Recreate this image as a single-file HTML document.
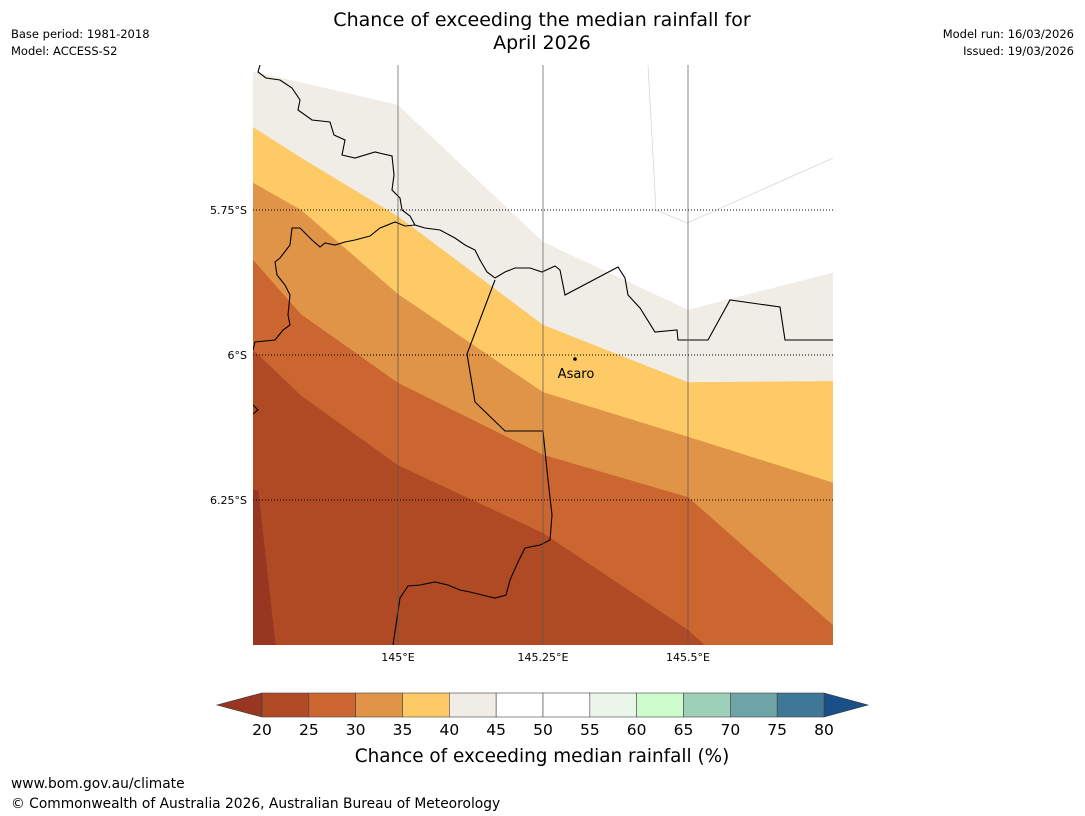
<!DOCTYPE html>
<html><head><meta charset="utf-8"><style>
body{margin:0;background:#fff;font-family:"Liberation Sans","DejaVu Sans",sans-serif;}
#wrap{position:relative;width:1085px;height:816px;overflow:hidden;}
</style></head><body>
<div id="wrap">
<svg id="svg" width="1085" height="816" xmlns="http://www.w3.org/2000/svg" style="position:absolute;left:0;top:0;font-family:'DejaVu Sans','Liberation Sans',sans-serif">
<text x="542" y="26" text-anchor="middle" font-size="19">Chance of exceeding the median rainfall for</text>
<text x="542" y="49" text-anchor="middle" font-size="19">April 2026</text>
<text x="11" y="38" font-size="11.5">Base period: 1981-2018</text>
<text x="11" y="55" font-size="11.5">Model: ACCESS-S2</text>
<text x="1074" y="38" font-size="11.5" text-anchor="end">Model run: 16/03/2026</text>
<text x="1074" y="55" font-size="11.5" text-anchor="end">Issued: 19/03/2026</text>
<defs><clipPath id="mapclip"><rect x="253" y="65" width="580" height="580"/></clipPath></defs>
<g id="map" clip-path="url(#mapclip)"></g>
<g id="overlay"></g>
<g id="cbar"></g>
<text x="542" y="762" text-anchor="middle" font-size="18.4">Chance of exceeding median rainfall (%)</text>
<text x="11" y="788" font-size="13.8">www.bom.gov.au/climate</text>
<text x="11" y="808" font-size="13.8">© Commonwealth of Australia 2026, Australian Bureau of Meteorology</text>
</svg>
</div>
<script>
// Data
const lons = [144.75, 144.833, 145.0, 145.25, 145.5, 145.75];
const b25 = [-5.991, -6.07, -6.19, -6.307, -6.474, -6.70];
const b30 = [-5.836, -5.93, -6.048, -6.172, -6.245, -6.466];
const b35 = [-5.703, -5.75, -5.895, -6.064, -6.141, -6.220];
const b40 = [-5.607, -5.66, -5.761, -5.948, -6.047, -6.045];
const b45 = [-5.512, -5.53, -5.569, -5.805, -5.922, -5.858];
const low20Lon = [144.75, 144.759, 144.789, 144.75];
const low20Lat = [-6.233, -6.233, -6.5, -6.5];
const cbLevels = [20,25,30,35,40,45,50,55,60,65,70,75,80];
const cbColors = ['#b04a24','#cb6630','#e09448','#fdca66','#f0ece6','#ffffff','#ffffff','#eaf6ea','#ccfccc','#9dd0b8','#6ea4a6','#3f7896'];
const lonTicks = [145, 145.25, 145.5];
const lonLabels = ['145°E','145.25°E','145.5°E'];
const latTicks = [-5.75, -6, -6.25];
const latLabels = ['5.75°S','6°S','6.25°S'];

const NS='http://www.w3.org/2000/svg';
const X = lon => 253 + (lon-144.75)*580;
const Y = lat => 65 + (-5.5-lat)*580;
function mk(tag, attrs, parent){const e=document.createElementNS(NS,tag);for(const k in attrs)e.setAttribute(k,attrs[k]);parent.appendChild(e);return e;}
const map=document.getElementById('map');
const ov=document.getElementById('overlay');
let r=mk('rect',{x:253,y:65,width:580,height:580,fill:'#b04a24'},map);


const bands=[[b25,'#cb6630','band-25-30'],[b30,'#e09448','band-30-35'],[b35,'#fdca66','band-35-40'],[b40,'#f0ece6','band-40-45'],[b45,'#ffffff','band-above-45']];
bands.forEach(([b,c,n])=>{
  let pts=lons.map((l,i)=>X(l)+','+Y(b[i]));
  pts.push(X(lons[lons.length-1])+',0');pts.push(X(lons[0])+',0');
  const p=mk('polygon',{points:pts.join(' '),fill:c},map);
  
  
});
let lp=mk('polygon',{points:low20Lon.map((l,i)=>X(l)+','+Y(low20Lat[i])).join(' '),fill:'#973621'},map);


let tl=mk('polyline',{points:'648,65 656,210 687,223 833,158',fill:'none',stroke:'#ccc','stroke-width':0.6},map);


// borders
const borders=[
'260,65 258,72 266,78 280,80 292,88 300,100 298,110 312,120 330,122 334,135 345,140 342,155 355,158 375,152 392,156 394,175 392,190 400,198 402,210 410,216 415,225 425,228 440,230 455,238 465,245 475,250 480,260 487,272 495,278 505,272 515,268 530,268 542,272 555,266 560,270 565,295 618,267 625,278 628,295 640,308 655,332 677,330 678,340 708,340 730,300 780,307 785,340 833,340',
'415,225 405,226 395,222 380,228 370,236 355,240 345,242 335,245 325,243 320,247 312,240 300,228 292,228 290,245 280,258 275,262 277,275 285,285 290,295 288,315 290,325 283,330 275,340 255,342 253,350',
'495,280 467,354 475,402 505,431 543,431 548,480 552,515 550,540 540,545 525,548 518,562 510,580 506,595 495,598 482,595 470,592 460,590 448,585 435,582 420,585 408,586 400,598 393,645',
'253,405 258,410 253,414'
];
borders.forEach((b,i)=>{
  const p=mk('polyline',{points:b,fill:'none',stroke:'#000','stroke-width':1.1},map);
  
  
});
// gridlines
lonTicks.forEach((l,i)=>{
  const g=mk('line',{x1:X(l),x2:X(l),y1:65,y2:645,stroke:'#555','stroke-width':1,'stroke-opacity':0.7},ov);
  
  
  const t=mk('text',{x:X(l),y:661,'text-anchor':'middle','font-size':11},ov);
  t.textContent=lonLabels[i];
  
  
});
latTicks.forEach((l,i)=>{
  const g=mk('line',{x1:253,x2:833,y1:Y(l),y2:Y(l),stroke:'#000','stroke-width':1,'stroke-dasharray':'1,2'},ov);
  
  
  const t=mk('text',{x:247,y:Y(l)+4,'text-anchor':'end','font-size':11},ov);
  t.textContent=latLabels[i];
  
  
});
let dot=mk('circle',{cx:575,cy:359,r:1.8,fill:'#000'},ov);


let at=mk('text',{x:576,y:378,'text-anchor':'middle','font-size':13},ov);
at.textContent='Asaro';


// colorbar
const cb=document.getElementById('cbar');
const cx0=262,cx1=824,cy0=693,cy1=717;
const CX=v=>cx0+(v-20)/60*(cx1-cx0);
let lt=mk('polygon',{points:`${cx0},${cy0} 217,705 ${cx0},${cy1}`,fill:'#973621',stroke:'#333','stroke-width':0.6},cb);


let rt=mk('polygon',{points:`${cx1},${cy0} 868,705 ${cx1},${cy1}`,fill:'#1a5088',stroke:'#333','stroke-width':0.6},cb);


cbColors.forEach((c,i)=>{
  const s=mk('rect',{x:CX(cbLevels[i]),y:cy0,width:CX(cbLevels[i+1])-CX(cbLevels[i]),height:cy1-cy0,fill:c,stroke:'#444','stroke-width':0.6},cb);
  
  
});
cbLevels.forEach(v=>{
  const t=mk('text',{x:CX(v),y:735,'text-anchor':'middle','font-size':15.5},cb);
  t.textContent=v;
  
  
});
</script>
</body></html>
